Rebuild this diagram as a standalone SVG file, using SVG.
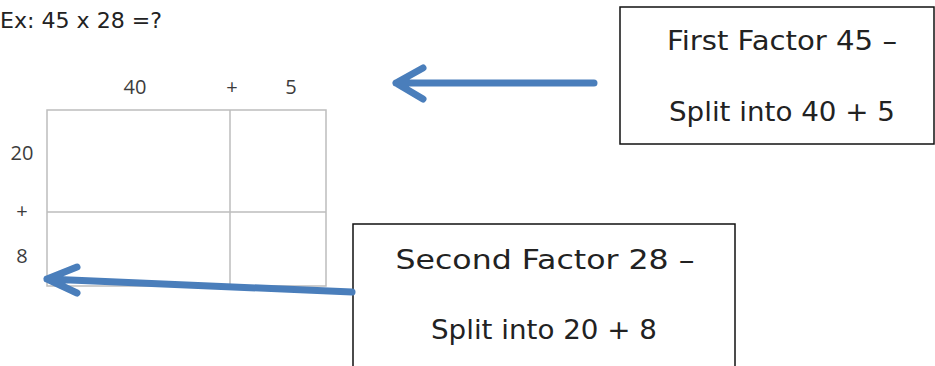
<svg xmlns="http://www.w3.org/2000/svg" width="935" height="366" viewBox="0 0 935 366">
<style>
.grid{fill:none;stroke:#bdbdbd;stroke-width:1.5}
.lbl{font-family:"Open Sans","Liberation Sans",sans-serif;font-size:20px;fill:#3c3c3c;text-anchor:middle}
.box{fill:#fff;stroke:#111;stroke-width:1.5}
.bt{font-family:"DejaVu Sans","Liberation Sans",sans-serif;font-size:26px;fill:#222;text-anchor:middle}
.arr{fill:none;stroke:#4a7ebb;stroke-width:7;stroke-linecap:round;stroke-linejoin:round}
</style>
<rect width="935" height="366" fill="#fff"/>
<text x="0" y="28" font-family="DejaVu Sans,Liberation Sans,sans-serif" font-size="21" fill="#222" textLength="162" lengthAdjust="spacingAndGlyphs">Ex: 45 x 28 =?</text>
<g id="grid">
<rect class="grid" x="47" y="110" width="279" height="176"/>
<line class="grid" x1="230" y1="110" x2="230" y2="286"/>
<line class="grid" x1="47" y1="212" x2="326" y2="212"/>
<text class="lbl" x="135" y="94">40</text>
<text class="lbl" x="232" y="94">+</text>
<text class="lbl" x="291" y="94">5</text>
<text class="lbl" x="22" y="160">20</text>
<text class="lbl" x="22" y="218">+</text>
<text class="lbl" x="22" y="263">8</text>
</g>
<g id="box1">
<rect class="box" x="620" y="7" width="314" height="137"/>
<text class="bt" x="782" y="50" textLength="230" lengthAdjust="spacingAndGlyphs">First Factor 45 –</text>
<text class="bt" x="782" y="121" textLength="226" lengthAdjust="spacingAndGlyphs">Split into 40 + 5</text>
</g>
<g id="box2">
<rect class="box" x="353" y="224" width="382" height="150"/>
<text class="bt" x="545" y="269" textLength="299" lengthAdjust="spacingAndGlyphs">Second Factor 28 –</text>
<text class="bt" x="544" y="339" textLength="226" lengthAdjust="spacingAndGlyphs">Split into 20 + 8</text>
</g>
<g id="connectors">
<path class="arr" d="M594 83 L396 83 M423 68 L396 83 L423 99"/>
<path class="arr" d="M352 292 L47 279 M77 267 L47 279 L77 293"/>
</g>
</svg>
